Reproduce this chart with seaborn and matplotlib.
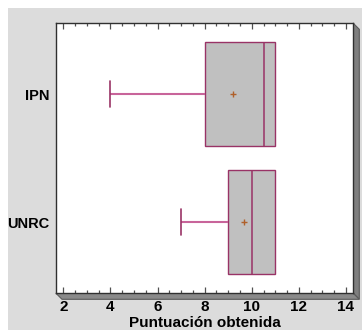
import numpy as np
import pandas as pd
import matplotlib
matplotlib.use("Agg")
import matplotlib.pyplot as plt
from matplotlib.patches import Rectangle, Polygon
from matplotlib.ticker import MultipleLocator
import seaborn as sns

# ---- data (observations reconstructed from the box statistics) ----
groups = ["IPN", "UNRC"]
ipn_scores = [4, 7, 8, 9.5, 10.5, 11, 11, 11, 11]
unrc_scores = [7, 8.5, 9, 9.5, 10, 10, 11, 11, 11]
x_ticks = [2, 4, 6, 8, 10, 12, 14]
x_label = "Puntuación obtenida"

df = pd.DataFrame({
    "grupo": ["IPN"] * len(ipn_scores) + ["UNRC"] * len(unrc_scores),
    "puntuacion": ipn_scores + unrc_scores,
})

sns.set_theme(style="white")
plt.rcParams["font.family"] = ["Liberation Sans", "DejaVu Sans"]

W, H = 362, 330
fig = plt.figure(figsize=(W / 100, H / 100), dpi=100, facecolor="white")

# gray panel background
fig.patches.append(Rectangle((8 / W, 0), 1, (H - 8) / H, transform=fig.transFigure,
                             facecolor="#dcdcdc", edgecolor="none", zorder=-10))

ax_l, ax_r, ax_t, ax_b = 56, 353.3, 23.3, 293.3
ax = fig.add_axes([ax_l / W, (H - ax_b) / H, (ax_r - ax_l) / W, (ax_b - ax_t) / H])
ax.set_facecolor("white")

# 3D shadow
d = 6
def P(x, y):
    return (x / W, (H - y) / H)
fig.patches.append(Polygon([P(ax_r, ax_t), P(ax_r + d, ax_t + d), P(ax_r + d, ax_b + d), P(ax_r, ax_b)],
                           closed=True, transform=fig.transFigure, facecolor="#7f7f7f",
                           edgecolor="#5a5a5a", linewidth=0.8, zorder=-5))
fig.patches.append(Polygon([P(ax_l, ax_b), P(ax_l + d, ax_b + d), P(ax_r + d, ax_b + d), P(ax_r, ax_b)],
                           closed=True, transform=fig.transFigure, facecolor="#8a8a8a",
                           edgecolor="#5a5a5a", linewidth=0.8, zorder=-5))

edge = "#993366"
sns.boxplot(data=df, x="puntuacion", y="grupo", order=groups, orient="h",
            color="#c0c0c0", saturation=1, width=0.81, linecolor=edge, linewidth=1.0,
            showmeans=True, capwidths=0.2, ax=ax,
            whiskerprops=dict(color="#c8649a", linewidth=1.5),
            capprops=dict(color=edge, linewidth=1.2),
            medianprops=dict(color=edge, linewidth=1.1),
            meanprops=dict(marker="+", markeredgecolor="#b0602a", markerfacecolor="#b0602a",
                           markersize=4, markeredgewidth=1.0))

# hide caps that coincide with the box edge (max == Q3)
upper_edges = {float(np.percentile(s, 75)) for s in (ipn_scores, unrc_scores)
               if np.max(s) == np.percentile(s, 75)}
for ln in ax.lines:
    xd = np.asarray(ln.get_xdata(), dtype=float)
    yd = np.asarray(ln.get_ydata(), dtype=float)
    if len(xd) == 2 and xd[0] == xd[1] and float(xd[0]) in upper_edges and abs(yd[1] - yd[0]) < 0.3:
        ln.set_visible(False)

ax.set_xlim(1.69, 14.31)
ax.set_ylim(1.555, -0.553)
ax.set_xticks(x_ticks)
ax.set_xticklabels([str(t) for t in x_ticks], fontsize=11, fontweight="bold", color="black")
ax.xaxis.set_minor_locator(MultipleLocator(0.5))
ax.tick_params(axis="x", which="both", direction="in", top=True, bottom=True,
               color="#505050", width=0.9, pad=4.5)
ax.tick_params(axis="x", which="major", length=4)
ax.tick_params(axis="x", which="minor", length=2.5)
ax.tick_params(axis="y", length=0, pad=4.5)
for lab in ax.get_yticklabels():
    lab.set_fontsize(10.5)
    lab.set_fontweight("bold")
    lab.set_color("black")
ax.set_ylabel("")
ax.set_xlabel(x_label, fontsize=11, fontweight="bold", color="black", labelpad=1.5)
for s in ax.spines.values():
    s.set_visible(True)
    s.set_color("#303030")
    s.set_linewidth(1.0)

fig.savefig("out.png", dpi=100, facecolor="white")
